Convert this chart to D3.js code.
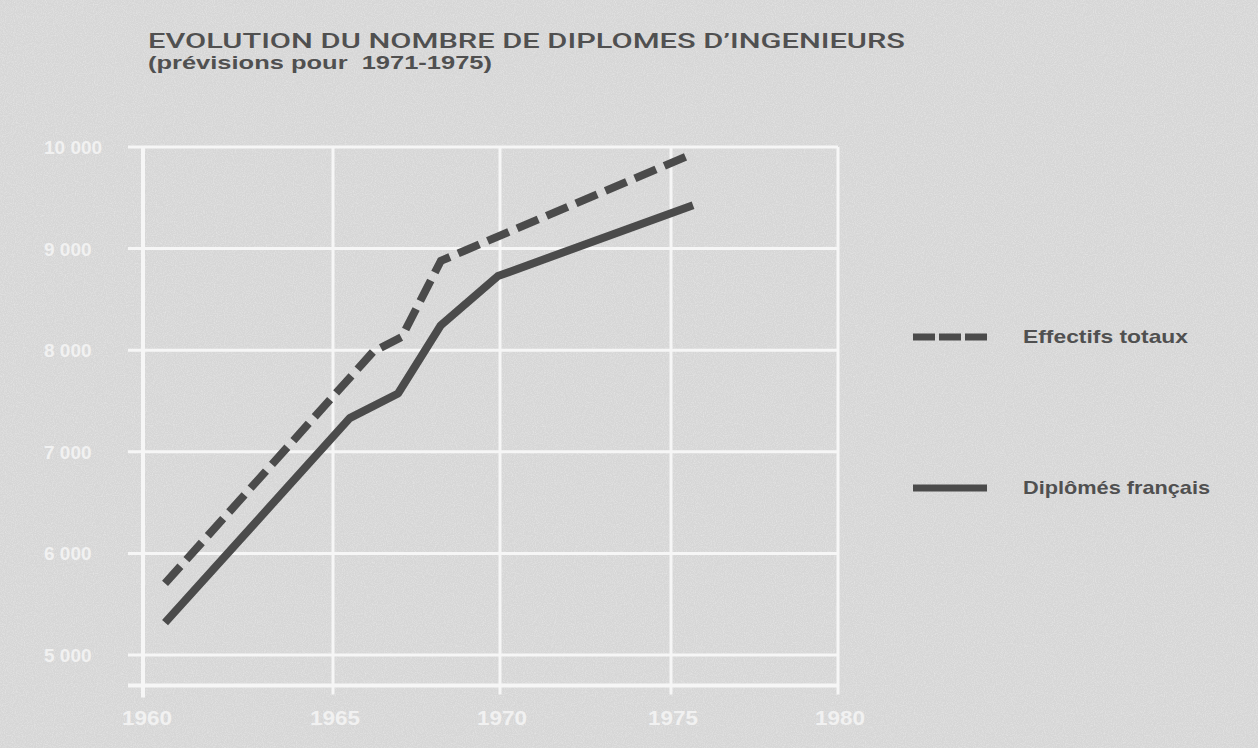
<!DOCTYPE html>
<head>
	<meta charset="utf-8">
	<title>D3</title>
	<style>
    body { margin: 0; background: #d7d7d7; }
    svg { display: block; }
    text { font-family: "Liberation Sans", Arial, sans-serif; white-space: pre; }
    .grid { stroke: #f6f6f6; stroke-width: 3px; }
    .axe { stroke: #f6f6f6; stroke-width: 4px; }
    .ylab, .xlab { fill: #f1f1f1; }
    .serie { fill: none; stroke: #4b4b4b; stroke-width: 8px; stroke-linejoin: round; }
	</style>
</head>
<body>
	<div id="chart"></div>
	<script src="https://cdn.jsdelivr.net/npm/d3@7"></script>
	<script>

    // années repères de l'axe horizontal
    var annees = [1960, 1965, 1970, 1975, 1980];
    var niveaux = [5000, 6000, 7000, 8000, 9000, 10000];
    var niveauxLabels = ["5 000", "6 000", "7 000", "8 000", "9 000", "10 000"];

    // Diplômés français
    var anneesFr = [1960.58, 1965.5, 1966.95, 1968.23, 1969.94, 1975.66];
    var diplomesFr = [5318, 7331, 7574, 8246, 8730, 9427];

    // Effectifs totaux
    var anneesTot = [1960.58, 1966.2, 1967.06, 1968.23, 1975.66];
    var effectifsTot = [5705, 7984, 8131, 8880, 9935];

    var titre = "EVOLUTION DU NOMBRE DE DIPLOMES D\u2019INGENIEURS";
    var sousTitre = "(prévisions pour  1971-1975)";
    var legende = ["Effectifs totaux", "Diplômés français"];
    var legendeLong = [165, 187];

    var width = 1258,
        height = 748;

    var svg = d3.select("#chart")
        .append("svg")
        .attr("width", width)
        .attr("height", height);

    // grain du papier
    var defs = svg.append("defs");
    var f = defs.append("filter").attr("id", "grain").attr("x", 0).attr("y", 0).attr("width", "100%").attr("height", "100%");
    f.append("feTurbulence").attr("type", "fractalNoise").attr("baseFrequency", 0.9).attr("numOctaves", 2).attr("seed", 4);
    f.append("feColorMatrix").attr("type", "matrix")
        .attr("values", "0 0 0 0 1  0 0 0 0 1  0 0 0 0 1  0 0 0 1.2 -0.45");
    svg.append("rect").attr("width", width).attr("height", height).attr("fill", "#d6d6d6");
    svg.append("rect").attr("width", width).attr("height", height).attr("filter", "url(#grain)").attr("opacity", 0.5);

    // échelle horizontale tracée à la main : irrégulière
    var x = d3.scaleLinear()
        .domain(annees)
        .range([143, 333, 500, 671, 838]);
    var y = d3.scaleLinear()
        .domain([5000, 10000])
        .range([655, 147]);
    var yBas = 4700;

    var g = svg.append("g");

    // lignes horizontales + petites graduations à gauche
    g.selectAll(".hgrid")
        .data(niveaux)
      .enter().append("line")
        .attr("class", "grid")
        .attr("x1", x(1960) - 15)
        .attr("x2", x(1980))
        .attr("y1", function(d) { return y(d); })
        .attr("y2", function(d) { return y(d); });

    // lignes verticales + graduations en bas
    g.selectAll(".vgrid")
        .data(annees.slice(1))
      .enter().append("line")
        .attr("class", "grid")
        .attr("x1", function(d) { return x(d); })
        .attr("x2", function(d) { return x(d); })
        .attr("y1", y(10000))
        .attr("y2", y(yBas) + 9);

    // axes
    g.append("line").attr("class", "axe")
        .attr("x1", x(1960)).attr("x2", x(1960))
        .attr("y1", y(10000) - 1).attr("y2", y(yBas) + 12);
    g.append("line").attr("class", "axe")
        .attr("x1", x(1960) - 15).attr("x2", x(1980) + 1)
        .attr("y1", y(yBas)).attr("y2", y(yBas));

    g.selectAll(".ylab")
        .data(niveaux)
      .enter().append("text")
        .attr("class", "ylab")
        .attr("x", 44)
        .attr("y", function(d) { return y(d) + 7; })
        .style("font-size", "19px")
        .style("font-weight", "bold")
        .text(function(d, i) { return niveauxLabels[i]; });

    g.selectAll(".xlab")
        .data(annees)
      .enter().append("text")
        .attr("class", "xlab")
        .attr("x", function(d, i) { return i == 0 ? x(d) + 4 : x(d) + 2; })
        .attr("y", 725)
        .attr("text-anchor", "middle")
        .style("font-size", "21px")
        .style("font-weight", "bold")
        .attr("textLength", 50)
        .attr("lengthAdjust", "spacingAndGlyphs")
        .text(function(d) { return d; });

    var line = d3.line()
        .x(function(d) { return x(d[0]); })
        .y(function(d) { return y(d[1]); });

    g.append("path")
        .attr("class", "serie")
        .attr("d", line(d3.zip(anneesFr, diplomesFr)));

    g.append("path")
        .attr("class", "serie")
        .style("stroke-linejoin", "miter")
        .attr("stroke-dasharray", "23,9")
        .attr("d", line(d3.zip(anneesTot, effectifsTot)));

    // titre
    svg.append("text")
        .attr("x", 148)
        .attr("y", 48)
        .attr("fill", "#505050")
        .style("font-family", "Roboto, 'Liberation Sans', sans-serif")
        .style("font-weight", 500)
        .style("font-size", "21px")
        .attr("textLength", 757)
        .attr("lengthAdjust", "spacingAndGlyphs")
        .text(titre);
    svg.append("text")
        .attr("x", 148)
        .attr("y", 69)
        .attr("fill", "#505050")
        .style("font-size", "18px")
        .style("font-weight", "bold")
        .attr("textLength", 344)
        .attr("lengthAdjust", "spacingAndGlyphs")
        .text(sousTitre);

    // légende
    var leg = svg.append("g");
    var legY = [337, 488];
    leg.selectAll(".legline")
        .data(legende)
      .enter().append("line")
        .attr("x1", 913)
        .attr("x2", 987)
        .attr("y1", function(d, i) { return legY[i]; })
        .attr("y2", function(d, i) { return legY[i]; })
        .attr("stroke", "#4b4b4b")
        .attr("stroke-width", 7)
        .attr("stroke-dasharray", function(d, i) { return i == 0 ? "22,4" : null; });
    leg.selectAll(".legtext")
        .data(legende)
      .enter().append("text")
        .attr("x", 1023)
        .attr("y", function(d, i) { return legY[i] + 6; })
        .attr("fill", "#505050")
        .style("font-size", "19px")
        .style("font-weight", "bold")
        .attr("textLength", function(d, i) { return legendeLong[i]; })
        .attr("lengthAdjust", "spacingAndGlyphs")
        .text(function(d) { return d; });

	</script>
</body>
</html>
